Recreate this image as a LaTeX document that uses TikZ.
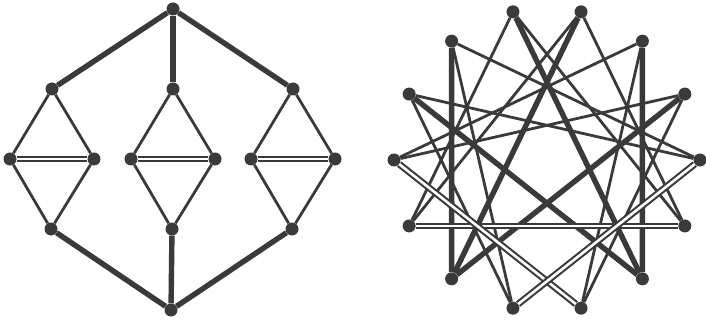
\documentclass[tikz,border=0pt]{standalone}
\definecolor{ink}{HTML}{3A3A3A}
\begin{document}
\begin{tikzpicture}[x=1pt,y=-1pt,
  thickedge/.style={line width=5.4pt, draw=ink},
  thinedge/.style={line width=2.8pt, draw=ink},
  dbl/.style={draw=ink, double=white, line width=2.1pt, double distance=2.6pt},
  vtx/.style={circle, fill=ink, inner sep=0pt, minimum size=13pt}]
\useasboundingbox (0,0) rectangle (706,323);
% ---------- left graph ----------
\node[vtx] (lt) at (173,9) {};
\node[vtx] (lb) at (171,310) {};
\foreach \i/\cx in {1/52,2/173,3/293}{
  \node[vtx] (d\i t) at (\cx,89) {};
  \node[vtx] (d\i l) at (\cx-42,159) {};
  \node[vtx] (d\i r) at (\cx+42,159) {};
  \node[vtx] (d\i b) at (\cx-1,229) {};
}
\foreach \i in {1,2,3}{
  \draw[thickedge] (lt) -- (d\i t);
  \draw[thickedge] (lb) -- (d\i b);
  \draw[thinedge] (d\i t) -- (d\i l);
  \draw[thinedge] (d\i t) -- (d\i r);
  \draw[thinedge] (d\i b) -- (d\i l);
  \draw[thinedge] (d\i b) -- (d\i r);
  \draw[dbl] (d\i l) -- (d\i r);
}
% ---------- right graph ----------
\foreach \k in {0,...,13}{
  \node[vtx] (r\k) at ({547+153*cos(\k*360/14)},{160-152*sin(\k*360/14)}) {};
}
\foreach \a/\b in {5/0,5/10,6/0,6/10,2/7,2/11,1/7,1/11,3/8,3/13,4/8,4/13}{
  \draw[thinedge] (r\a) -- (r\b);
}
\foreach \a/\b in {9/5,9/3,9/1,12/2,12/4,12/6}{
  \draw[thickedge] (r\a) -- (r\b);
}
\foreach \a/\b in {8/13,7/11,0/10}{
  \draw[dbl] (r\a) -- (r\b);
}
\end{tikzpicture}
\end{document}
